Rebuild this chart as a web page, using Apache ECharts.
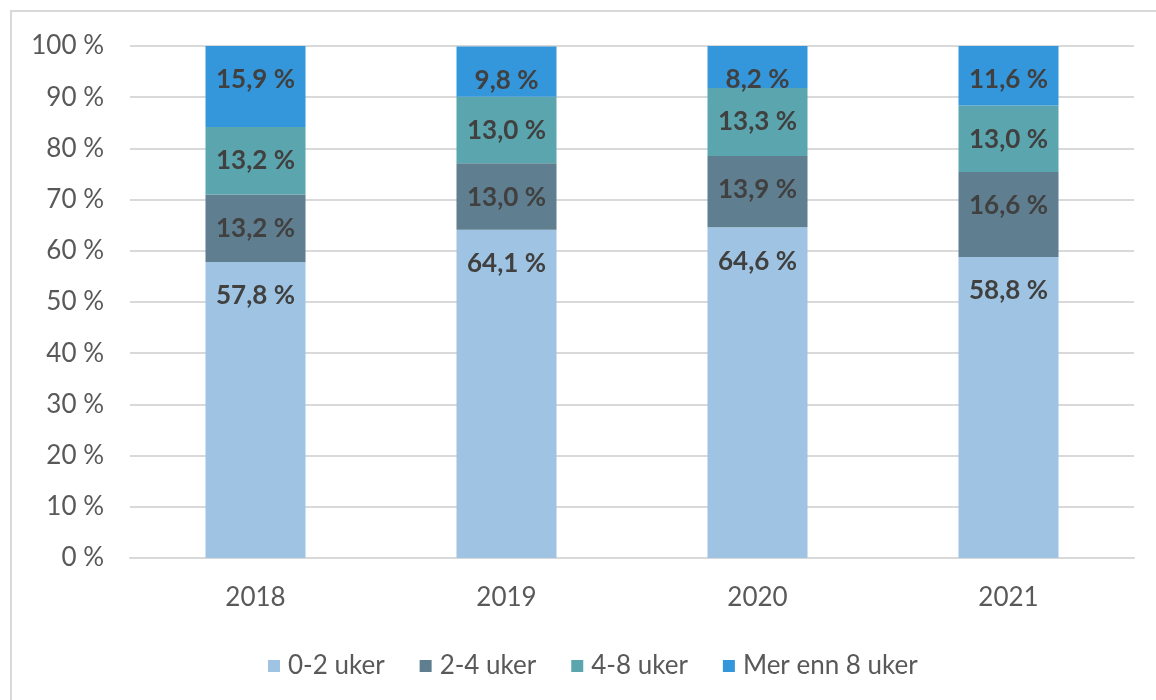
<!DOCTYPE html>
<html>
<head>
<meta charset="utf-8">
<script src="https://cdn.jsdelivr.net/npm/echarts@6/dist/echarts.min.js"></script>
<style>
	html, body { margin: 0; padding: 0; background: #fff; }
	#frame {
		position: absolute; left: 10px; top: 10px; width: 1146px; height: 690px;
		border-left: 2px solid #d9d9d9; border-top: 2px solid #d9d9d9;
	}
	#chart { position: absolute; left: 0; top: 0; width: 1156px; height: 700px; }
</style>
</head>
<body>
<div id="frame"></div>
<div id="chart"></div>
<script>
// år (kategorier)
const years = ['2018', '2019', '2020', '2021'];
// andel per varighet, prosent
const uker02 = [57.8, 64.1, 64.6, 58.8];
const uker24 = [13.2, 13.0, 13.9, 16.6];
const uker48 = [13.2, 13.0, 13.3, 13.0];
const merEnn8 = [15.9, 9.8, 8.2, 11.6];
const seriesNames = ['0-2 uker', '2-4 uker', '4-8 uker', 'Mer enn 8 uker'];
const seriesColors = ['#9fc4e3', '#5f7e8f', '#5ba5ae', '#3497db'];

const font = 'Lato, "Open Sans", sans-serif';
const fmt = (v) => v.toFixed(1).replace('.', ',') + ' %';

const myChart = echarts.init(document.getElementById('chart'));

const option = {
	animation: false,
	textStyle: { fontFamily: font },
	grid: { left: 130, right: 22, top: 46, bottom: 142 },
	legend: {
		data: seriesNames,
		top: 648,
		left: 263,
		itemWidth: 12,
		itemHeight: 12,
		itemGap: 35,
		icon: 'rect',
		textStyle: { fontSize: 26, color: '#595959', fontFamily: font, padding: [0, 0, 0, 3] },
	},
	xAxis: {
		type: 'category',
		data: years,
		axisTick: { show: false },
		axisLine: { lineStyle: { color: '#d9d9d9', width: 2 } },
		axisLabel: { fontSize: 26, color: '#595959', margin: 27, fontFamily: font },
	},
	yAxis: {
		type: 'value',
		min: 0,
		max: 100,
		interval: 10,
		axisLine: { show: false },
		axisTick: { show: false },
		splitLine: { lineStyle: { color: '#d9d9d9', width: 2 } },
		axisLabel: { fontSize: 26, color: '#595959', margin: 26, formatter: '{value} %', fontFamily: font },
	},
	series: [uker02, uker24, uker48, merEnn8].map((data, i) => ({
		name: seriesNames[i],
		type: 'bar',
		stack: 'total',
		barWidth: 100,
		data: data,
		itemStyle: { color: seriesColors[i] },
		label: {
			show: true,
			position: ['50%', 34],
			align: 'center',
			verticalAlign: 'middle',
			fontSize: 26,
			fontWeight: 'bold',
			color: '#404040',
			fontFamily: font,
			formatter: (p) => fmt(p.value),
		},
	})),
};
myChart.setOption(option);
</script>
</body>
</html>
